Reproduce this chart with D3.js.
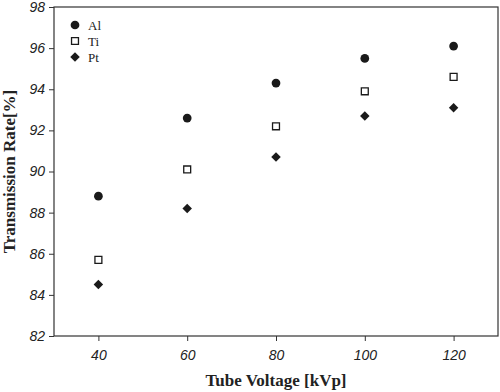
<!DOCTYPE html>
<html>
<head>
<meta charset="utf-8">
<script src="https://cdn.jsdelivr.net/npm/d3@7"></script>
<style>
  body { margin: 0; background: #fff; }
  .tick text { font-family: "Liberation Sans", Arial, sans-serif; font-style: italic; font-size: 14px; fill: #222; }
  .domain, .tick line { stroke: #333; }
</style>
</head>
<body>
<svg id="chart" width="500" height="392"></svg>
<script>
const voltages = [40, 60, 80, 100, 120];
const al = [88.8, 92.6, 94.3, 95.5, 96.1];
const ti = [85.7, 90.1, 92.2, 93.9, 94.6];
const pt = [84.5, 88.2, 90.7, 92.7, 93.1];
const yTicks = [82, 84, 86, 88, 90, 92, 94, 96, 98];
const seriesNames = ["Al", "Ti", "Pt"];

const svg = d3.select("#chart");
const margin = { left: 54, right: 2, top: 7, bottom: 56 };
const width = 500 - margin.left - margin.right;
const height = 392 - margin.top - margin.bottom;

const g = svg.append("g").attr("transform", `translate(${margin.left},${margin.top})`);

const x = d3.scaleLinear().domain([30, 130]).range([0, width]);
const y = d3.scaleLinear().domain([82, 98]).range([height, 0]);

// frame
g.append("rect")
    .attr("width", width)
    .attr("height", height)
    .attr("fill", "none")
    .attr("stroke", "#333")
    .attr("stroke-width", 1.2);

g.append("g")
    .attr("transform", `translate(0,${height})`)
    .call(d3.axisBottom(x).tickValues(voltages).tickSize(5).tickPadding(9))
    .call(a => a.select(".domain").remove());

g.append("g")
    .call(d3.axisLeft(y).tickValues(yTicks).tickSize(5).tickPadding(4))
    .call(a => a.select(".domain").remove());

const data = [al, ti, pt];
// diamond = square turned 45 degrees
const symbols = [d3.symbolCircle, d3.symbolSquare, d3.symbolSquare];
const sizes = [60, 48, 45];
const turns = [0, 0, 45];

function styleMark(sel, si) {
    sel.attr("d", d3.symbol().type(symbols[si]).size(sizes[si]))
        .attr("fill", si === 1 ? "#fff" : "#1a1a1a")
        .attr("stroke", si === 1 ? "#1a1a1a" : "none")
        .attr("stroke-width", 1.3);
}

data.forEach((vals, si) => {
    g.selectAll(`.pt-${si}`)
        .data(vals)
        .enter()
        .append("path")
        .attr("class", `pt-${si}`)
        .attr("transform", (d, i) => `translate(${x(voltages[i])},${y(d)}) rotate(${turns[si]})`)
        .call(styleMark, si);
});

// legend
const legend = g.append("g").attr("transform", "translate(21,18)");
seriesNames.forEach((name, si) => {
    const row = legend.append("g").attr("transform", `translate(0,${si * 16})`);
    row.append("path")
        .attr("transform", `rotate(${turns[si]})`)
        .call(styleMark, si);
    row.append("text")
        .attr("x", 13)
        .attr("dy", "0.35em")
        .attr("font-family", "Liberation Serif, Times New Roman, serif")
        .attr("font-size", "13px")
        .attr("fill", "#222")
        .text(name);
});

// axis titles
svg.append("text")
    .attr("x", margin.left + width / 2)
    .attr("y", 386)
    .attr("text-anchor", "middle")
    .attr("font-family", "Liberation Serif, Times New Roman, serif")
    .attr("font-weight", "bold")
    .attr("font-size", "17px")
    .attr("fill", "#222")
    .text("Tube Voltage [kVp]");

svg.append("text")
    .attr("transform", `translate(15,${margin.top + height / 2}) rotate(-90)`)
    .attr("text-anchor", "middle")
    .attr("font-family", "Liberation Serif, Times New Roman, serif")
    .attr("font-weight", "bold")
    .attr("font-size", "17px")
    .attr("fill", "#222")
    .text("Transmission Rate[%]");
</script>
</body>
</html>
